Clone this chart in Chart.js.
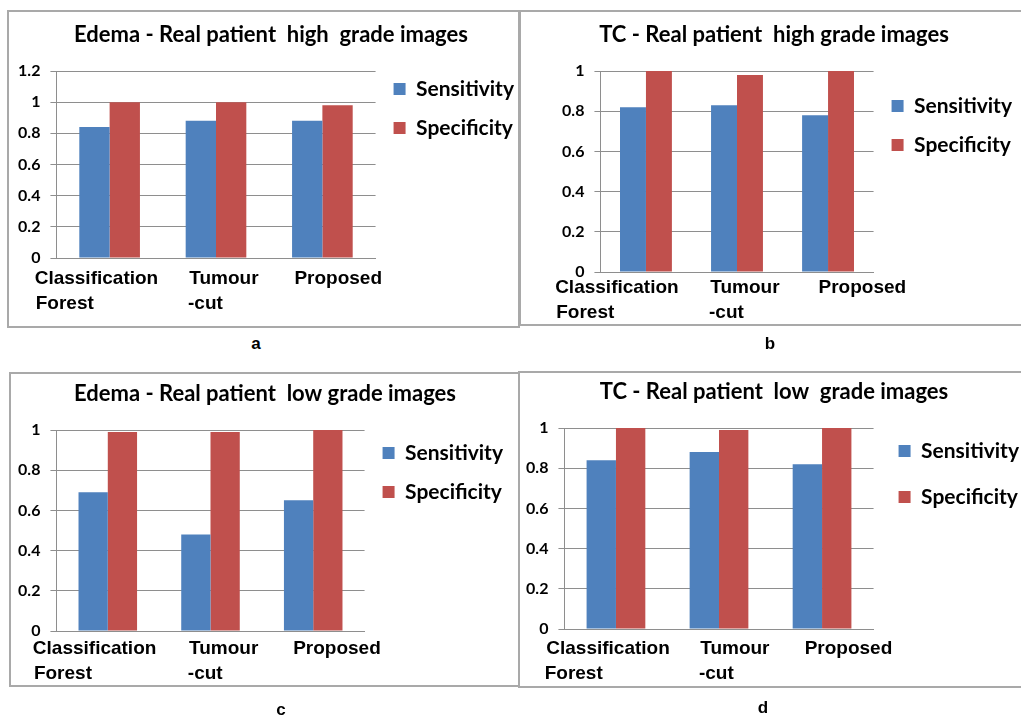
<!DOCTYPE html>
<html>
<head>
<meta charset="utf-8">
<script src="https://cdn.jsdelivr.net/npm/chart.js@4.4.1/dist/chart.umd.min.js"></script>
<style>
  html, body { margin: 0; padding: 0; background: #fff; overflow: hidden; }
  body { width: 1021px; height: 717px; position: relative; }
  .frame { position: absolute; border: 2px solid #a9a9a9; box-sizing: border-box; }
  .panel-canvas { position: absolute; }
  .tag { position: absolute; font: bold 17px "Liberation Sans", Arial, sans-serif; color: #000; transform: translate(-50%, -50%); }
</style>
</head>
<body>
<div class="frame" style="left:7px; top:10px; width:513px; height:318px;"></div>
<div class="frame" style="left:519px; top:10px; width:520px; height:316px;"></div>
<div class="frame" style="left:9px; top:372px; width:511px; height:315px;"></div>
<div class="frame" style="left:518px; top:371px; width:520px; height:317px;"></div>

<canvas id="chartA" class="panel-canvas"></canvas>
<canvas id="chartB" class="panel-canvas"></canvas>
<canvas id="chartC" class="panel-canvas"></canvas>
<canvas id="chartD" class="panel-canvas"></canvas>

<div class="tag" style="left:256px; top:344px;">a</div>
<div class="tag" style="left:770px; top:344px;">b</div>
<div class="tag" style="left:281px; top:710px;">c</div>
<div class="tag" style="left:763px; top:708px;">d</div>

<script>
// data
const methods = [['Classification', 'Forest'], ['Tumour', '-cut'], 'Proposed'];
const seriesNames = ['Sensitivity', 'Specificity'];

const edemaHighSensitivity = [0.84, 0.88, 0.88];
const edemaHighSpecificity = [1.0, 1.0, 0.98];

const tcHighSensitivity = [0.82, 0.83, 0.78];
const tcHighSpecificity = [1.0, 0.98, 1.0];

const edemaLowSensitivity = [0.69, 0.48, 0.65];
const edemaLowSpecificity = [0.99, 0.99, 1.0];

const tcLowSensitivity = [0.84, 0.88, 0.82];
const tcLowSpecificity = [1.0, 0.99, 1.0];

const titles = [
    'Edema - Real patient  high  grade images',
    'TC - Real patient  high grade images',
    'Edema - Real patient  low grade images',
    'TC - Real patient  low  grade images'
];
const yMax = [1.2, 1, 1, 1];
const yStep = 0.2;

const colors = ['#4f81bd', '#c0504d'];
const gridColor = '#8e8e8e';

// where each plot sits on the page
const panels = [
    { id: 'chartA', sens: edemaHighSensitivity, spec: edemaHighSpecificity, area: {left: 56, right: 376, top: 71, bottom: 258}, titleX: 271, legendY: 89, legendGap: 18, labelPad: 8, labelShift: [-12, 8, 17] },
    { id: 'chartB', sens: tcHighSensitivity, spec: tcHighSpecificity, area: {left: 600, right: 874, top: 71, bottom: 272}, titleX: 774, legendY: 106, legendGap: 18, labelPad: 3, labelShift: [-28, 9, 33] },
    { id: 'chartC', sens: edemaLowSensitivity, spec: edemaLowSpecificity, area: {left: 56, right: 365, top: 430, bottom: 631}, titleX: 265, legendY: 453, legendGap: 18, labelPad: 5, labelShift: [-12, 13, 25] },
    { id: 'chartD', sens: tcLowSensitivity, spec: tcLowSpecificity, area: {left: 564, right: 874, top: 428, bottom: 629}, titleX: 774, legendY: 451, legendGap: 25, labelPad: 7, labelShift: [-9, 15, 27] }
];

const legendFont = 21;
const axisH = 70;
const tickFont = { family: 'Liberation Sans', size: 19, weight: 'bold', lineHeight: 1.32 };

// the category labels sit left-aligned and a bit off-centre in the original,
// so pad them with spaces instead of moving the tick itself
const measurer = document.createElement('canvas').getContext('2d');
measurer.font = 'bold 19px "Liberation Sans"';
const spaceW = measurer.measureText(' ').width;

function placeLabel(label, shift) {
    const lines = [].concat(label);
    const widths = lines.map(l => measurer.measureText(l).width);
    const maxW = Math.max(...widths);
    const n = 2 * shift / spaceW;
    return lines.map((l, k) => {
        let left = n > 0 ? n : 0;
        let right = (maxW - widths[k]) / spaceW + (n < 0 ? -n : 0);
        return ' '.repeat(Math.round(left)) + l + ' '.repeat(Math.round(right));
    });
}

function draw(p, i, legendWidth) {
    const canvas = document.getElementById(p.id);
    const legendRight = p.area.right + legendWidth;
    const left = 2 * p.titleX - legendRight;
    const top = p.area.top - 61;
    const width = legendRight - left;
    const height = p.area.bottom - top + axisH;
    canvas.width = width;
    canvas.height = height;
    canvas.style.left = left + 'px';
    canvas.style.top = top + 'px';

    const spacer = (p.legendY - top) - legendFont / 2 - p.legendGap;

    return new Chart(canvas, {
        type: 'bar',
        data: {
            labels: methods,
            datasets: [
                { label: seriesNames[0], data: p.sens, backgroundColor: colors[0] },
                { label: seriesNames[1], data: p.spec, backgroundColor: colors[1] }
            ]
        },
        options: {
            responsive: false,
            animation: false,
            layout: { padding: 0 },
            datasets: {
                bar: { categoryPercentage: 0.57, barPercentage: 1.0, borderWidth: 0 }
            },
            plugins: {
                title: {
                    display: true,
                    text: titles[i],
                    color: '#000',
                    font: { family: 'Lato', size: 22, weight: 'bold', lineHeight: 1.2 },
                    padding: { top: 11.8, bottom: 22.8 }
                },
                legend: {
                    position: 'right',
                    align: 'start',
                    maxWidth: 400,
                    title: { display: true, text: '', font: { size: 10, lineHeight: 1.2 }, padding: { top: spacer - 12, bottom: 0 } },
                    labels: {
                        color: '#000',
                        boxWidth: 12,
                        boxHeight: 12,
                        padding: p.legendGap,
                        font: { family: 'Lato', size: legendFont, weight: 'bold' }
                    }
                },
                tooltip: { enabled: false }
            },
            scales: {
                x: {
                    grid: { display: false, drawTicks: false },
                    border: { display: true, color: gridColor, width: 1 },
                    ticks: {
                        color: '#000',
                        padding: p.labelPad,
                        maxRotation: 0,
                        autoSkip: false,
                        font: tickFont,
                        callback: (v, idx) => placeLabel(methods[idx], p.labelShift[idx])
                    },
                    afterFit: s => { s.height = axisH; }
                },
                y: {
                    min: 0,
                    max: yMax[i],
                    ticks: {
                        stepSize: yStep,
                        color: '#000',
                        padding: 10,
                        font: { family: 'Lato', size: 16, weight: 'bold' },
                        callback: v => String(Number(v.toFixed(2)))
                    },
                    grid: { color: gridColor, lineWidth: 1, tickLength: 6, drawTicks: true },
                    border: { display: true, color: gridColor, width: 1 },
                    afterFit: s => { s.width = p.area.left - left; }
                }
            }
        }
    });
}

panels.forEach((p, i) => {
    let guess = 150;
    let chart = draw(p, i, guess);
    for (let k = 0; k < 3 && Math.abs(chart.legend.width - guess) > 0.5; k++) {
        guess = chart.legend.width;
        chart.destroy();
        chart = draw(p, i, guess);
    }
});
</script>
</body>
</html>
